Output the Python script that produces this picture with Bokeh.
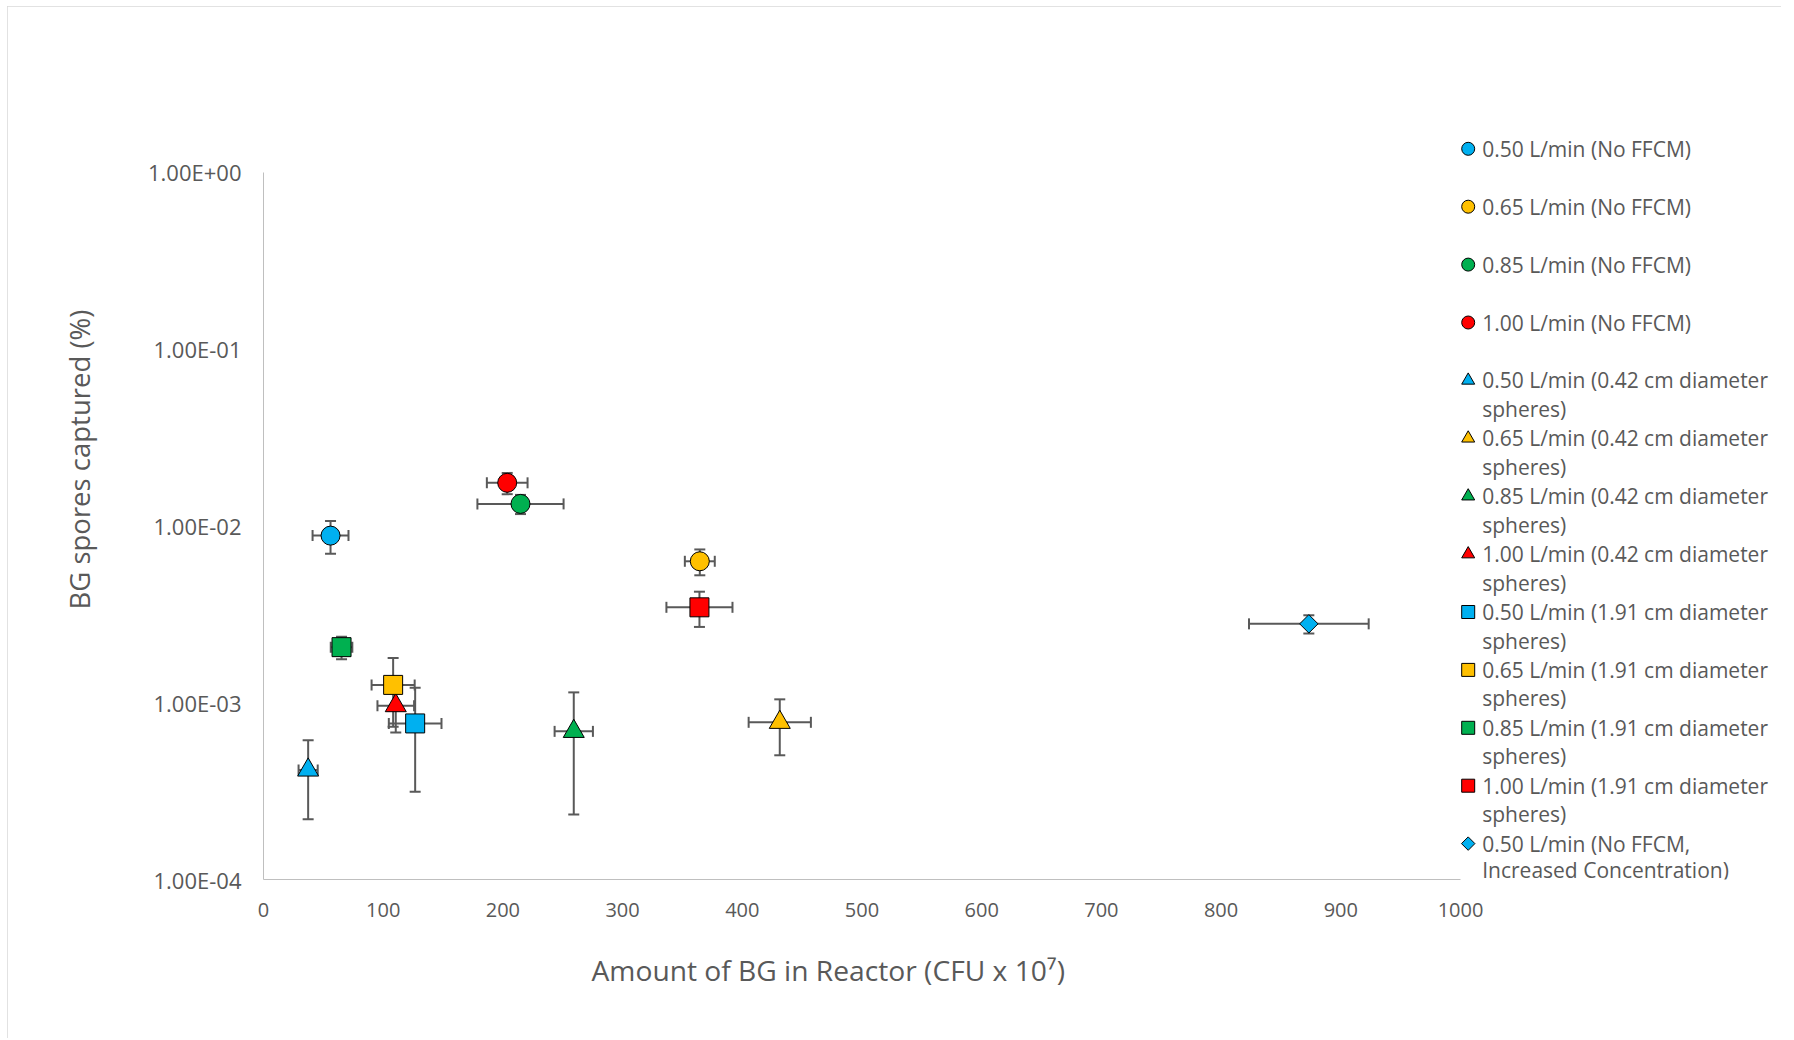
import math
from bokeh.plotting import figure
from bokeh.models import (Range1d, LinearScale, FixedTicker, CustomJSTickFormatter, Whisker,
                          TeeHead, ColumnDataSource, Title)
from bokeh.core.properties import value
from bokeh.embed import file_html
from bokeh.resources import INLINE

# ---------------- data ----------------
series_labels = [
    "0.50 L/min (No FFCM)",
    "0.65 L/min (No FFCM)",
    "0.85 L/min (No FFCM)",
    "1.00 L/min (No FFCM)",
    "0.50 L/min (0.42 cm diameter\nspheres)",
    "0.65 L/min (0.42 cm diameter\nspheres)",
    "0.85 L/min (0.42 cm diameter\nspheres)",
    "1.00 L/min (0.42 cm diameter\nspheres)",
    "0.50 L/min (1.91 cm diameter\nspheres)",
    "0.65 L/min (1.91 cm diameter\nspheres)",
    "0.85 L/min (1.91 cm diameter\nspheres)",
    "1.00 L/min (1.91 cm diameter\nspheres)",
    "0.50 L/min (No FFCM,\nIncreased Concentration)",
]
x_values = [56.0, 364.5, 214.7, 203.6, 37.3, 431.3, 259.2, 110.5, 126.7, 108.3, 65.2, 364.2, 873.3]
y_values = [8.8e-3, 6.3e-3, 1.33e-2, 1.75e-2, 4.16e-4, 7.74e-4, 6.88e-4, 9.62e-4,
            7.63e-4, 1.26e-3, 2.06e-3, 3.46e-3, 2.79e-3]
x_errors = [15.0, 12.5, 36.0, 17.0, 8.0, 26.0, 16.0, 15.3, 22.0, 18.0, 9.0, 27.6, 50.0]
y_errors = [1.85e-3, 1.05e-3, 1.65e-3, 2.4e-3, 1.97e-4, 2.7e-4, 4.55e-4, 2.83e-4,
            4.5e-4, 5.3e-4, 3.0e-4, 7.8e-4, 3.3e-4]
x_ticks = [0, 100, 200, 300, 400, 500, 600, 700, 800, 900, 1000]
y_ticks = [1e-4, 1e-3, 1e-2, 1e-1, 1.0]
x_title = "Amount of BG in Reactor (CFU x 10\u2077)"
y_title = "BG spores captured (%)"

# ---------------- styles / geometry (page pixels) ----------------
BLUE, YELLOW, GREEN, RED = "#00B0F0", "#FFC000", "#00B050", "#FF0000"
colors = [BLUE, YELLOW, GREEN, RED] * 3 + [BLUE]
markers = ["circle"] * 4 + ["triangle"] * 4 + ["square"] * 4 + ["diamond"]
TEXT = "#595959"
FONT = "Open Sans"

FIG_X, FIG_Y, W, H = 7, 6, 1774, 1032
X_LO_PX, X_HI_PX = 263, 1460          # where x=0 and x=1000 sit
Y_HI_PX, Y_LO_PX = 171.6, 879         # where y=1 and y=1e-4 sit
FRAME_L, FRAME_R, FRAME_T, FRAME_B = 263, 1775, 130, 879
DEC = (Y_LO_PX - Y_HI_PX) / 4.0

x_end = x_ticks[-1] * (FRAME_R - FRAME_L) / (X_HI_PX - X_LO_PX)
y_end = 10 ** ((FRAME_B - FRAME_T) / DEC + math.log10(y_ticks[0]))

p = figure(width=W, height=H, x_range=Range1d(0, x_end), y_range=Range1d(y_ticks[0], y_end),
           y_axis_type="log", output_backend="svg", toolbar_location=None,
           min_border_left=FRAME_L - FIG_X, min_border_right=W - (FRAME_R - FIG_X),
           min_border_top=FRAME_T - FIG_Y, min_border_bottom=H - (FRAME_B - FIG_Y))
p.margin = (FIG_Y, 0, 0, FIG_X)
p.styles = {"outline": "1px solid #d9d9d9", "outline-offset": "-1px"}
p.extra_x_ranges = {"leg": Range1d(FRAME_L, FRAME_R)}
p.extra_y_ranges = {"leg": Range1d(FRAME_B, FRAME_T)}
p.extra_x_scales = {"leg": LinearScale()}
p.extra_y_scales = {"leg": LinearScale()}
p.grid.visible = False
p.outline_line_color = None
p.background_fill_color = "white"
p.border_fill_color = "white"

for ax in (p.xaxis[0], p.yaxis[0]):
    ax.axis_line_color = "#bfbfbf"
    ax.axis_line_width = 1
    ax.major_tick_line_color = None
    ax.minor_tick_line_color = None
    ax.major_label_text_font = FONT
    ax.major_label_text_color = TEXT
p.xaxis.bounds = (x_ticks[0], x_ticks[-1])
p.yaxis.bounds = (y_ticks[0], y_ticks[-1])
p.xaxis.major_label_text_font_size = "20px"
p.yaxis.major_label_text_font_size = "22px"
p.xaxis.ticker = FixedTicker(ticks=x_ticks)
p.xaxis.major_label_standoff = 17
p.yaxis.ticker = FixedTicker(ticks=y_ticks, minor_ticks=[])
p.yaxis.major_label_standoff = 16
p.yaxis.formatter = CustomJSTickFormatter(code="""
const e = Math.round(Math.log10(tick));
const m = tick / Math.pow(10, e);
const s = e < 0 ? '-' : '+';
return m.toFixed(2) + 'E' + s + String(Math.abs(e)).padStart(2, '0');
""")

# ---------------- series ----------------
for i in range(len(series_labels)):
    x, y, xe, ye = x_values[i], y_values[i], x_errors[i], y_errors[i]
    src = ColumnDataSource(dict(x=[x], y=[y], xl=[x - xe], xu=[x + xe], yl=[y - ye], yu=[y + ye]))
    for base, lo, up, dim in (("x", "yl", "yu", "height"), ("y", "xl", "xu", "width")):
        p.add_layout(Whisker(source=src, base=base, lower=lo, upper=up, dimension=dim,
                             line_color=TEXT, line_width=2, level="underlay",
                             upper_head=TeeHead(size=11, line_color=TEXT, line_width=2),
                             lower_head=TeeHead(size=11, line_color=TEXT, line_width=2)))
    if markers[i] == "diamond":
        p.scatter("x", "y", source=src, marker="square", angle=math.pi / 4, size=13,
                  fill_color=colors[i], line_color="black", line_width=1)
    else:
        p.scatter("x", "y", source=src, marker=markers[i],
                  size=21 if markers[i] == "triangle" else 19,
                  fill_color=colors[i], line_color="black", line_width=1)

# ---------------- legend (page-pixel coordinates) ----------------
LEG_MX, LEG_TX = 1467.7, 1481.7
LEG_Y0, LEG_STEP, LINE_STEP = 148.3, 57.9, 28.5
mk_x, mk_y, mk_m, mk_a, mk_s, mk_c = [], [], [], [], [], []
tx, ty, tt = [], [], []
for i, lab in enumerate(series_labels):
    yc = LEG_Y0 + LEG_STEP * i
    mk_x.append(LEG_MX)
    mk_y.append(yc)
    dia = markers[i] == "diamond"
    mk_m.append("square" if dia else markers[i])
    mk_a.append(math.pi / 4 if dia else 0.0)
    mk_s.append(9.5 if dia else 13)
    mk_c.append(colors[i])
    for j, line in enumerate(lab.split("\n")):
        tx.append(LEG_TX)
        ty.append(min(yc + j * LINE_STEP, FRAME_B - 10))   # keep last line inside the frame
        tt.append(line)

p.scatter(x="x", y="y", marker="m", angle="a", size="s", fill_color="c",
          line_color="black", line_width=1, x_range_name="leg", y_range_name="leg",
          source=ColumnDataSource(dict(x=mk_x, y=mk_y, m=mk_m, a=mk_a, s=mk_s, c=mk_c)))
p.text(x="x", y="y", text="t", x_range_name="leg", y_range_name="leg",
       source=ColumnDataSource(dict(x=tx, y=ty, t=tt)),
       text_font=value(FONT), text_font_size="21px", text_color=TEXT,
       text_align="left", text_baseline="middle")

# ---------------- axis titles ----------------
p.add_layout(Title(text=x_title, align="left", offset=328, standoff=58,
                   text_font=FONT, text_font_size="28.2px", text_color=TEXT,
                   text_font_style="normal"), "below")
p.add_layout(Title(text=y_title, align="left", offset=270, standoff=95,
                   text_font=FONT, text_font_size="27.5px", text_color=TEXT,
                   text_font_style="normal"), "left")

open("out.html", "w").write(file_html(p, INLINE))
